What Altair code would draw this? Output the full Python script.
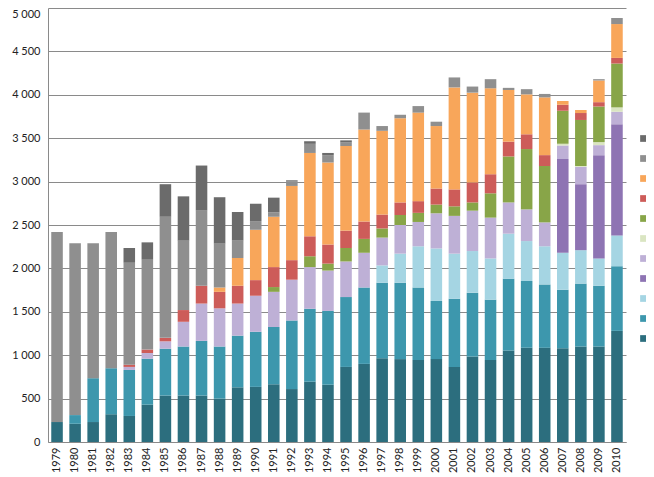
import altair as alt
import pandas as pd

years = ["1979", "1980", "1981", "1982", "1983", "1984", "1985", "1986",
         "1987", "1988", "1989", "1990", "1991", "1992", "1993", "1994",
         "1995", "1996", "1997", "1998", "1999", "2000", "2001", "2002",
         "2003", "2004", "2005", "2006", "2007", "2008", "2009", "2010"]

# series, bottom of the stack first
s1 = [230, 210, 230, 320, 300, 430, 535, 535, 535, 500, 630, 635, 665, 610, 695, 660,
      865, 900, 965, 955, 945, 955, 865, 985, 945, 1055, 1085, 1085, 1080, 1100, 1100, 1280]
s2 = [0, 100, 505, 530, 530, 530, 540, 565, 630, 600, 595, 635, 660, 790, 840, 850,
      805, 880, 870, 880, 835, 670, 785, 735, 695, 825, 770, 730, 675, 725, 700, 745]
s3 = [0, 0, 0, 0, 0, 0, 0, 0, 0, 0, 0, 0, 0, 0, 0, 0,
      0, 0, 200, 335, 475, 605, 520, 480, 475, 520, 460, 440, 425, 385, 315, 355]
s4 = [0, 0, 0, 0, 0, 0, 0, 0, 0, 0, 0, 0, 0, 0, 0, 0,
      0, 0, 0, 0, 0, 0, 0, 0, 0, 0, 0, 0, 1080, 760, 1190, 1280]
s5 = [0, 0, 0, 0, 35, 65, 85, 285, 430, 440, 370, 415, 405, 470, 480, 465,
      410, 400, 320, 330, 280, 405, 435, 465, 470, 360, 365, 275, 155, 200, 115, 145]
s6 = [0, 0, 0, 0, 0, 0, 0, 0, 0, 0, 0, 0, 0, 0, 0, 0,
      0, 0, 0, 0, 0, 0, 0, 0, 0, 0, 0, 0, 20, 10, 35, 50]
s7 = [0, 0, 0, 0, 0, 0, 0, 0, 0, 0, 0, 0, 55, 0, 125, 80,
      155, 160, 105, 115, 105, 100, 110, 95, 280, 530, 695, 650, 380, 530, 410, 505]
s8 = [0, 0, 0, 0, 25, 40, 40, 135, 205, 190, 205, 180, 230, 225, 230, 220,
      200, 200, 160, 145, 135, 185, 195, 230, 220, 170, 170, 125, 70, 80, 50, 65]
s9 = [0, 0, 0, 0, 0, 0, 0, 0, 0, 50, 320, 580, 580, 855, 960, 945,
      975, 1060, 965, 970, 1020, 720, 1175, 1035, 990, 595, 460, 665, 45, 35, 250, 390]
s10 = [2190, 1980, 1555, 1570, 1175, 1035, 1395, 800, 865, 505, 200, 100, 50, 55, 105, 85,
       40, 195, 55, 40, 75, 50, 115, 70, 105, 25, 60, 40, 0, 0, 15, 70]
s11 = [0, 0, 0, 0, 170, 200, 375, 510, 520, 535, 330, 200, 170, 10, 30, 25,
       25, 0, 0, 0, 0, 0, 0, 0, 0, 0, 0, 0, 0, 0, 0, 0]

series_names = ["Série 1", "Série 2", "Série 3", "Série 4", "Série 5", "Série 6",
                "Série 7", "Série 8", "Série 9", "Série 10", "Série 11"]
series_values = [s1, s2, s3, s4, s5, s6, s7, s8, s9, s10, s11]
series_colors = ["#2C6E7E", "#3D97AD", "#A5D5E3", "#8E74B3", "#BEB0D6", "#DAE5C2",
                 "#88A548", "#CD5C59", "#F8A65A", "#8F8F8F", "#6B6B6B"]
y_ticks = [0, 500, 1000, 1500, 2000, 2500, 3000, 3500, 4000, 4500, 5000]

rows = []
for i, (name, vals) in enumerate(zip(series_names, series_values)):
    for yr, v in zip(years, vals):
        if v > 0:
            rows.append({"year": yr, "series": name, "value": v, "idx": i})
df = pd.DataFrame(rows)

legend_domain = series_names[::-1]
legend_range = series_colors[::-1]

chart = alt.Chart(df).mark_bar().encode(
    x=alt.X("year:N", sort=years,
            scale=alt.Scale(paddingInner=0.36, paddingOuter=0.18),
            axis=alt.Axis(title=None, labelAngle=-90, ticks=False, grid=False,
                          domain=True, domainColor="#8a8a8a", labelPadding=5)),
    y=alt.Y("value:Q", stack="zero",
            scale=alt.Scale(domain=[0, 5000], nice=False),
            axis=alt.Axis(title=None, values=y_ticks, ticks=False, grid=True,
                          gridColor="#8a8a8a", domain=True, domainColor="#8a8a8a",
                          labelPadding=8,
                          labelExpr="replace(format(datum.value, ','), ',', ' ')",
                          labelBaseline={"condition": {"test": "datum.value == 5000", "value": "top"},
                                         "value": "middle"})),
    color=alt.Color("series:N",
                    scale=alt.Scale(domain=legend_domain, range=legend_range),
                    legend=alt.Legend(title=None, labelExpr="''", labelFontSize=1,
                                      orient="none",
                                      legendX=592, legendY=127,
                                      symbolType="square", symbolSize=45,
                                      symbolStrokeWidth=0, symbolOpacity=1,
                                      rowPadding=13, padding=0)),
    order=alt.Order("idx:Q", sort="ascending"),
).properties(
    width=578, height=434,
    autosize=alt.AutoSizeParams(type="none"),
    padding={"left": 40, "top": 0, "right": 20, "bottom": 35},
).configure_view(stroke=None).configure_axis(
    labelFont="Lato", labelFontSize=11, labelColor="#222222"
)

chart.save("out.html", embed_options={"renderer": "svg", "actions": False})
